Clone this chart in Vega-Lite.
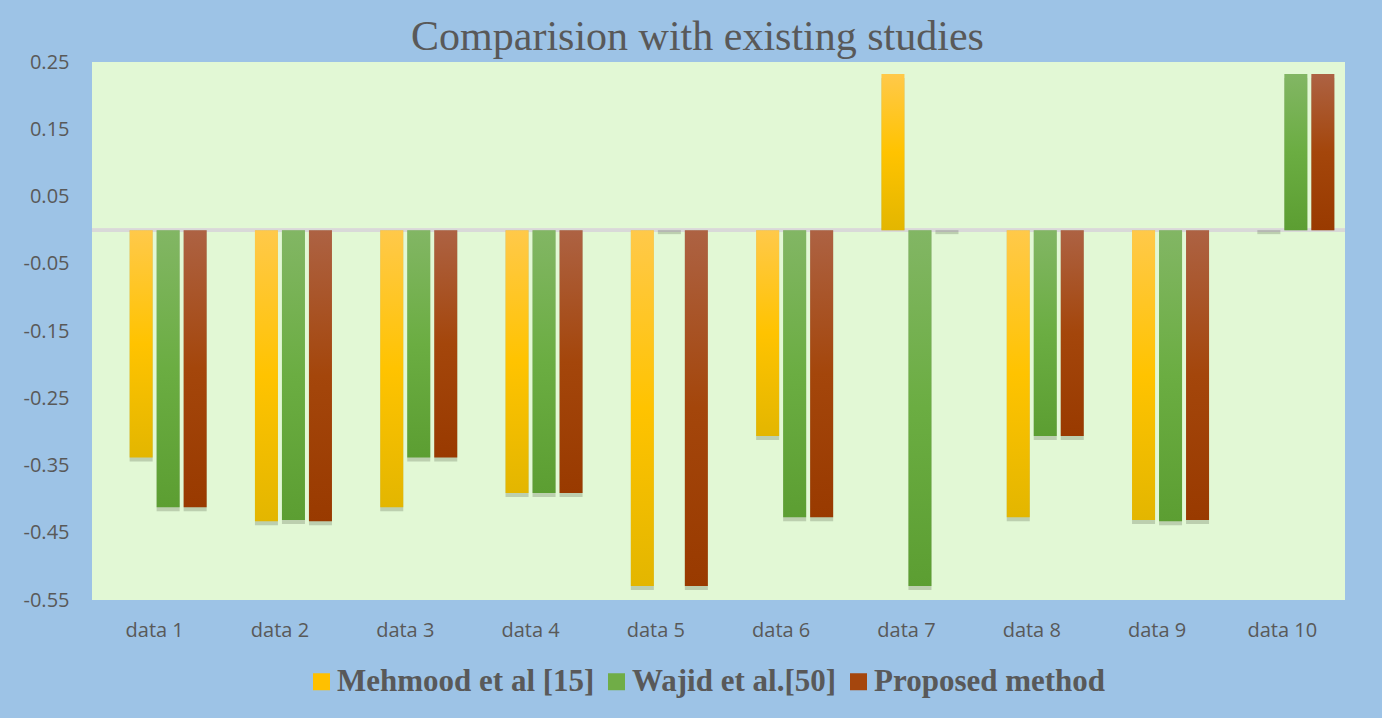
{
  "$schema": "https://vega.github.io/schema/vega-lite/v6.json",
  "width": 1253,
  "height": 538,
  "autosize": {"type": "none"},
  "padding": {"left": 92, "top": 62, "right": 37, "bottom": 118},
  "background": "#9DC3E6",
  "config": {
    "view": {"stroke": null, "fill": "#E2F8D5"},
    "axis": {"grid": false, "ticks": false, "domain": false, "labelColor": "#595959", "labelFont": "Open Sans", "labelFontSize": 20, "title": null}
  },
  "title": {
    "text": "Comparision with existing studies",
    "font": "Liberation Serif",
    "fontSize": 42,
    "fontWeight": "normal",
    "color": "#595959",
    "anchor": "middle",
    "dx": -21,
    "dy": 48,
    "baseline": "alphabetic",
    "offset": 8
  },
  "data": {
    "values": [
      {"cat": "data 1", "series": "Mehmood et al [15]", "value": -0.338},
      {"cat": "data 1", "series": "Wajid et al.[50]", "value": -0.412},
      {"cat": "data 1", "series": "Proposed method", "value": -0.412},
      {"cat": "data 2", "series": "Mehmood et al [15]", "value": -0.433},
      {"cat": "data 2", "series": "Wajid et al.[50]", "value": -0.431},
      {"cat": "data 2", "series": "Proposed method", "value": -0.433},
      {"cat": "data 3", "series": "Mehmood et al [15]", "value": -0.412},
      {"cat": "data 3", "series": "Wajid et al.[50]", "value": -0.338},
      {"cat": "data 3", "series": "Proposed method", "value": -0.338},
      {"cat": "data 4", "series": "Mehmood et al [15]", "value": -0.391},
      {"cat": "data 4", "series": "Wajid et al.[50]", "value": -0.391},
      {"cat": "data 4", "series": "Proposed method", "value": -0.391},
      {"cat": "data 5", "series": "Mehmood et al [15]", "value": -0.529},
      {"cat": "data 5", "series": "Wajid et al.[50]", "value": 0},
      {"cat": "data 5", "series": "Proposed method", "value": -0.529},
      {"cat": "data 6", "series": "Mehmood et al [15]", "value": -0.306},
      {"cat": "data 6", "series": "Wajid et al.[50]", "value": -0.427},
      {"cat": "data 6", "series": "Proposed method", "value": -0.427},
      {"cat": "data 7", "series": "Mehmood et al [15]", "value": 0.232},
      {"cat": "data 7", "series": "Wajid et al.[50]", "value": -0.529},
      {"cat": "data 7", "series": "Proposed method", "value": 0},
      {"cat": "data 8", "series": "Mehmood et al [15]", "value": -0.427},
      {"cat": "data 8", "series": "Wajid et al.[50]", "value": -0.306},
      {"cat": "data 8", "series": "Proposed method", "value": -0.306},
      {"cat": "data 9", "series": "Mehmood et al [15]", "value": -0.431},
      {"cat": "data 9", "series": "Wajid et al.[50]", "value": -0.433},
      {"cat": "data 9", "series": "Proposed method", "value": -0.431},
      {"cat": "data 10", "series": "Mehmood et al [15]", "value": 0},
      {"cat": "data 10", "series": "Wajid et al.[50]", "value": 0.232},
      {"cat": "data 10", "series": "Proposed method", "value": 0.232}
    ]
  },
  "encoding": {
    "x": {
      "field": "cat",
      "type": "nominal",
      "sort": null,
      "scale": {"paddingInner": 0.138, "paddingOuter": 0.069},
      "axis": {"labelAngle": 0, "labelPadding": 20}
    },
    "y": {
      "field": "value",
      "type": "quantitative",
      "scale": {"domain": [-0.55, 0.25], "nice": false, "zero": false},
      "axis": {
        "values": [0.25, 0.15, 0.05, -0.05, -0.15, -0.25, -0.35, -0.45, -0.55],
        "labelExpr": "replace(format(datum.value, '.2f'), '\u2212', '-')",
        "labelPadding": 23
      }
    },
    "xOffset": {
      "field": "series",
      "type": "nominal",
      "scale": {
        "domain": ["_blank", "Mehmood et al [15]", "Wajid et al.[50]", "Proposed method"],
        "paddingInner": 0.148,
        "paddingOuter": 0.074
      }
    }
  },
  "layer": [
    {
      "mark": {"type": "rule", "color": "#D9D9D9", "strokeWidth": 3},
      "encoding": {"y": {"datum": 0}, "x": null, "xOffset": null}
    },
    {
      "mark": {"type": "bar", "fill": "#4A5540", "opacity": 0.25, "yOffset": 4, "xOffset": 1},
      "encoding": {"y2": {"datum": 0}}
    },
    {
      "transform": [{"filter": "datum.series === 'Mehmood et al [15]'"}],
      "mark": {
        "type": "bar",
        "fill": {"gradient": "linear", "x1": 0, "y1": 0, "x2": 0, "y2": 1,
          "stops": [{"offset": 0, "color": "#FFC94A"}, {"offset": 0.5, "color": "#FFC300"}, {"offset": 1, "color": "#E3B600"}]}
      },
      "encoding": {"y2": {"datum": 0}}
    },
    {
      "transform": [{"filter": "datum.series === 'Wajid et al.[50]'"}],
      "mark": {
        "type": "bar",
        "fill": {"gradient": "linear", "x1": 0, "y1": 0, "x2": 0, "y2": 1,
          "stops": [{"offset": 0, "color": "#82B664"}, {"offset": 0.5, "color": "#6BAD42"}, {"offset": 1, "color": "#5C9E32"}]}
      },
      "encoding": {"y2": {"datum": 0}}
    },
    {
      "transform": [{"filter": "datum.series === 'Proposed method'"}],
      "mark": {
        "type": "bar",
        "fill": {"gradient": "linear", "x1": 0, "y1": 0, "x2": 0, "y2": 1,
          "stops": [{"offset": 0, "color": "#AD6243"}, {"offset": 0.5, "color": "#A4460B"}, {"offset": 1, "color": "#993A00"}]}
      },
      "encoding": {"y2": {"datum": 0}}
    },
    {
      "transform": [{"filter": "false"}],
      "mark": {"type": "bar"},
      "encoding": {
        "color": {
          "field": "series",
          "type": "nominal",
          "scale": {
            "domain": ["Mehmood et al [15]", "Wajid et al.[50]", "Proposed method"],
            "range": ["#FFC000", "#70AD47", "#A5460D"]
          },
          "legend": {
            "title": null,
            "orient": "none",
            "legendX": 214,
            "legendY": 604,
            "direction": "horizontal",
            "symbolType": "square",
            "symbolSize": 289,
            "symbolStrokeWidth": 0,
            "labelFont": "Liberation Serif",
            "labelFontWeight": "bold",
            "labelFontSize": 31,
            "labelColor": "#595959",
            "labelLimit": 0,
            "labelOffset": 0,
            "columnPadding": 6
          }
        }
      }
    }
  ]
}
